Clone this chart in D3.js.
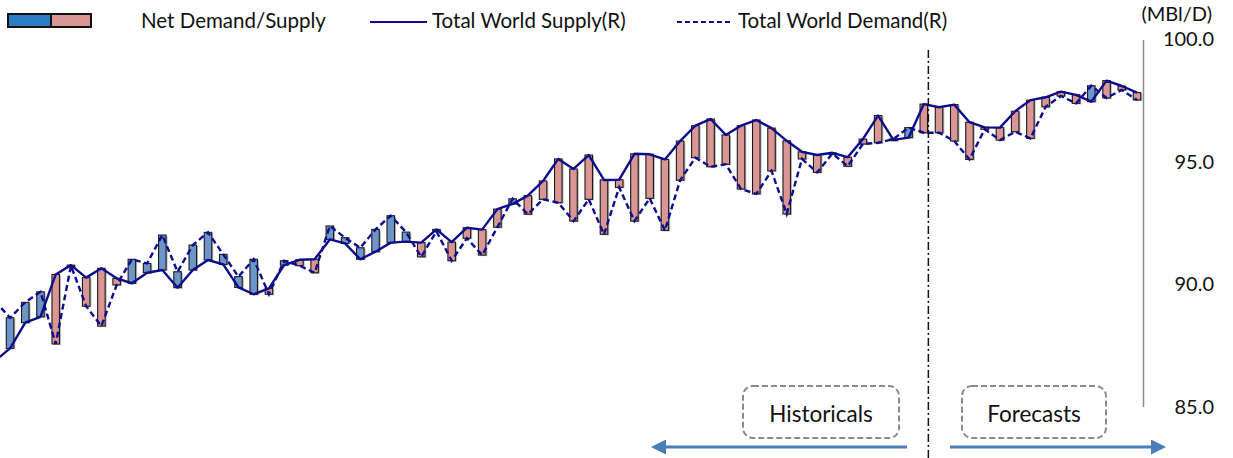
<!DOCTYPE html>
<html>
<head>
<meta charset="utf-8">
<script src="https://cdn.jsdelivr.net/npm/d3@7"></script>
<style>
  body { margin: 0; background: #fff; }
  text { font-family: Lato, "Open Sans", sans-serif; fill: #111; }
</style>
</head>
<body>
<script>
// Period index (first one sits just off the left edge)
var periods = d3.range(0, 76);

// Total world supply (MBl/D)
var supply = [86.86, 87.38, 88.43, 88.67, 90.40, 90.78, 90.27, 90.65, 90.24, 90.04,
  90.47, 90.58, 89.86, 90.58, 90.99, 90.81, 89.87, 89.59, 89.83, 90.78,
  91.00, 91.02, 91.83, 91.67, 91.02, 91.33, 91.70, 91.74, 91.70, 92.24,
  91.72, 92.31, 92.23, 93.07, 93.28, 93.62, 94.22, 95.12, 94.71, 95.28,
  94.26, 94.27, 95.33, 95.31, 95.10, 95.85, 96.48, 96.75, 96.10, 96.48,
  96.71, 96.38, 95.86, 95.41, 95.28, 95.37, 95.19, 95.93, 96.89, 95.90,
  95.99, 97.36, 97.23, 97.34, 96.62, 96.41, 96.40, 97.07, 97.52, 97.64,
  97.87, 97.74, 97.46, 98.32, 98.10, 97.83];

// Total world demand (MBl/D)
var demand = [89.31, 88.63, 89.26, 89.69, 87.56, 90.76, 89.10, 88.29, 89.97, 91.02,
  90.85, 92.01, 90.51, 91.60, 92.12, 91.22, 90.31, 91.02, 89.59, 90.96,
  90.76, 90.47, 92.38, 91.90, 91.49, 92.24, 92.80, 92.13, 91.12, 92.16,
  90.96, 91.88, 91.19, 92.33, 93.49, 92.86, 93.47, 93.33, 92.58, 93.47,
  92.04, 93.96, 92.58, 93.51, 92.20, 94.25, 95.17, 94.80, 94.90, 93.89,
  93.69, 94.63, 92.87, 95.12, 94.57, 95.34, 94.82, 95.73, 95.78, 95.93,
  96.40, 96.19, 96.19, 95.85, 95.10, 96.33, 95.89, 96.23, 95.96, 97.25,
  97.69, 97.39, 98.11, 97.61, 97.94, 97.53];

var yTicks = [85, 90, 95, 100];
var forecastStart = 61.3; // index where forecasts begin

var W = 1233, H = 458;
var navy = "#0c0c8c", blueBar = "#6d95c7", pinkBar = "#d99694";

var data = periods.map(function (p, i) {
  return { p: p, s: supply[i], d: demand[i] };
});

var svg = d3.select("body").append("svg")
  .attr("width", W).attr("height", H);

var x = d3.scaleLinear().domain([0, 75]).range([-5.2, 1137]);
var y = d3.scaleLinear().domain([85, 100]).range([406.6, 39.5]);

// Bars: gap between supply and demand
var barW = 7.5;
var bars = svg.append("g");
bars.selectAll(".shadow")
  .data(data.slice(1))
  .enter().append("rect")
  .attr("x", function (d) { return x(d.p) - barW / 2 + 1.5; })
  .attr("y", function (d) { return y(Math.max(d.s, d.d)) + 1; })
  .attr("width", barW)
  .attr("height", function (d) { return Math.max(1.5, Math.abs(y(d.s) - y(d.d))); })
  .attr("fill", "#9a9a9a").attr("opacity", 0.7);

bars.selectAll(".bar")
  .data(data.slice(1))
  .enter().append("rect")
  .attr("x", function (d) { return x(d.p) - barW / 2; })
  .attr("y", function (d) { return y(Math.max(d.s, d.d)); })
  .attr("width", barW)
  .attr("height", function (d) { return Math.max(1.5, Math.abs(y(d.s) - y(d.d))); })
  .attr("fill", function (d) { return d.d > d.s ? blueBar : pinkBar; })
  .attr("stroke", "#1a1a1a").attr("stroke-width", 1.1);

// Supply and demand lines
var lineS = d3.line().x(function (d) { return x(d.p); }).y(function (d) { return y(d.s); });
var lineD = d3.line().x(function (d) { return x(d.p); }).y(function (d) { return y(d.d); });

svg.append("path").datum(data)
  .attr("d", lineD).attr("fill", "none")
  .attr("stroke", navy).attr("stroke-width", 2.4)
  .attr("stroke-dasharray", "6,3.5");

svg.append("path").datum(data)
  .attr("d", lineS).attr("fill", "none")
  .attr("stroke", navy).attr("stroke-width", 2.4)
  .attr("stroke-linejoin", "round");

// Right axis
var axis = svg.append("g")
  .attr("transform", "translate(1143,0)")
  .call(d3.axisRight(y).tickValues(yTicks).tickFormat(d3.format(".1f")).tickSize(0));
axis.select(".domain").attr("stroke", "#8c8c8c").attr("stroke-width", 1.5);
axis.selectAll("text")
  .attr("x", 71).attr("text-anchor", "end")
  .style("font-family", "Lato, sans-serif").style("font-size", "20px").attr("fill", "#111");

svg.append("text")
  .attr("x", 1212).attr("y", 21).attr("text-anchor", "end")
  .style("font-size", "20px").text("(MBl/D)");

// Historicals / forecasts divider
svg.append("line")
  .attr("x1", x(forecastStart)).attr("x2", x(forecastStart))
  .attr("y1", 50).attr("y2", H)
  .attr("stroke", "#111").attr("stroke-width", 1.5)
  .attr("stroke-dasharray", "8,3,2,3");

// Label boxes
var boxes = [
  { label: "Historicals", x0: 743, x1: 899 },
  { label: "Forecasts", x0: 962, x1: 1106 }
];
boxes.forEach(function (b) {
  svg.append("rect")
    .attr("x", b.x0).attr("y", 386).attr("width", b.x1 - b.x0).attr("height", 52)
    .attr("rx", 10).attr("fill", "#fff")
    .attr("stroke", "#8a8a8a").attr("stroke-width", 2)
    .attr("stroke-dasharray", "6,3");
  svg.append("text")
    .attr("x", (b.x0 + b.x1) / 2).attr("y", 422).attr("text-anchor", "middle")
    .style("font-size", "22.5px").text(b.label);
});

// Arrows
var defs = svg.append("defs");
defs.append("marker").attr("id", "arrow")
  .attr("viewBox", "0 0 10 10").attr("refX", 8).attr("refY", 5)
  .attr("markerWidth", 5).attr("markerHeight", 5)
  .attr("markerUnits", "strokeWidth").attr("orient", "auto")
  .append("path").attr("d", "M0,0L10,5L0,10z").attr("fill", "#4a7ebb");

svg.append("line")
  .attr("x1", 907).attr("x2", 654).attr("y1", 447).attr("y2", 447)
  .attr("stroke", "#4a7ebb").attr("stroke-width", 3)
  .attr("marker-end", "url(#arrow)");
svg.append("line")
  .attr("x1", 950).attr("x2", 1163).attr("y1", 447).attr("y2", 447)
  .attr("stroke", "#4a7ebb").attr("stroke-width", 3)
  .attr("marker-end", "url(#arrow)");

// Legend
var legend = svg.append("g");
legend.append("rect").attr("x", 8).attr("y", 14).attr("width", 43).attr("height", 13)
  .attr("fill", "#2a7dc4").attr("stroke", "#111").attr("stroke-width", 2);
legend.append("rect").attr("x", 51).attr("y", 14).attr("width", 40).attr("height", 13)
  .attr("fill", pinkBar).attr("stroke", "#111").attr("stroke-width", 2);
legend.append("text").attr("x", 141).attr("y", 28).style("font-size", "20.5px")
  .text("Net Demand/Supply");

legend.append("line").attr("x1", 370).attr("x2", 427).attr("y1", 22).attr("y2", 22)
  .attr("stroke", navy).attr("stroke-width", 2.2);
legend.append("text").attr("x", 432).attr("y", 28).style("font-size", "20.5px")
  .text("Total World Supply(R)");

legend.append("line").attr("x1", 677).attr("x2", 733).attr("y1", 22).attr("y2", 22)
  .attr("stroke", navy).attr("stroke-width", 2.2).attr("stroke-dasharray", "5,3");
legend.append("text").attr("x", 738).attr("y", 28).style("font-size", "20.5px")
  .text("Total World Demand(R)");
</script>
</body>
</html>
